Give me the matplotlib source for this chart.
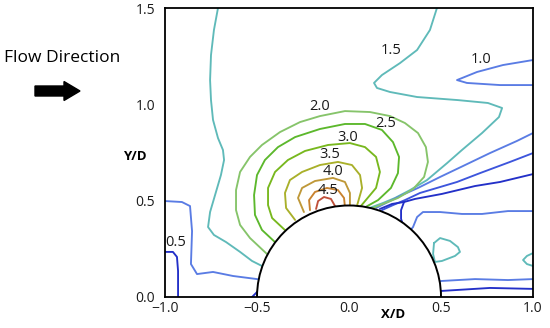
import matplotlib
matplotlib.use("Agg")
import matplotlib.pyplot as plt
from matplotlib.patches import Ellipse, FancyArrow

plt.rcParams["font.family"] = ["Open Sans", "DejaVu Sans"]

# ---------------------------------------------------------------------------
# Contour lines (X/D, Y/D)
# ---------------------------------------------------------------------------
# level 1.5
c15_left_x = [-0.712, -0.734, -0.750, -0.755, -0.750, -0.739, -0.712, -0.685, -0.679, -0.696,
              -0.728, -0.755, -0.766, -0.734, -0.668, -0.592, -0.527, -0.473, -0.451]
c15_left_y = [1.500, 1.386, 1.256, 1.126, 1.022, 0.919, 0.825, 0.763, 0.711, 0.633,
              0.529, 0.441, 0.363, 0.322, 0.285, 0.234, 0.187, 0.161, 0.150]
c15_right_x = [0.478, 0.440, 0.370, 0.277, 0.179, 0.136, 0.152, 0.223, 0.370, 0.592, 0.755,
               0.832, 0.815, 0.723, 0.614, 0.533, 0.424, 0.332, 0.250, 0.185, 0.125, 0.087]
c15_right_y = [1.500, 1.386, 1.282, 1.214, 1.152, 1.111, 1.085, 1.064, 1.038, 1.022, 1.007,
               0.981, 0.934, 0.851, 0.763, 0.695, 0.607, 0.555, 0.514, 0.488, 0.467, 0.451]
c15_loop_x = [0.462, 0.495, 0.549, 0.592, 0.603, 0.576, 0.505, 0.467, 0.457, 0.462]
c15_loop_y = [0.280, 0.306, 0.291, 0.259, 0.234, 0.213, 0.187, 0.182, 0.223, 0.280]
c15_edge_x = [1.0, 0.967, 0.946, 0.967, 1.0]
c15_edge_y = [0.228, 0.213, 0.192, 0.171, 0.161]

# level 1.0
c10_top_x = [1.0, 0.837, 0.696, 0.587, 0.641, 0.821, 1.0]
c10_top_y = [1.230, 1.204, 1.168, 1.126, 1.111, 1.100, 1.100]
c10_left_x = [-1.0, -0.908, -0.864, -0.853, -0.859, -0.826, -0.739, -0.630, -0.500, -0.473]
c10_left_y = [0.498, 0.493, 0.472, 0.342, 0.171, 0.119, 0.130, 0.109, 0.093, 0.088]
c10_mid_x = [0.321, 0.348, 0.370, 0.402, 0.495, 0.614, 0.723, 0.864, 1.0]
c10_mid_y = [0.332, 0.363, 0.415, 0.441, 0.441, 0.431, 0.431, 0.446, 0.446]
c10_bot_x = [0.484, 0.500, 0.685, 0.864, 1.0]
c10_bot_y = [0.073, 0.083, 0.093, 0.088, 0.093]
c10_fan_x = [1.0, 0.913, 0.766, 0.620, 0.495, 0.375, 0.288, 0.212, 0.147]
c10_fan_y = [0.851, 0.810, 0.747, 0.680, 0.623, 0.566, 0.529, 0.493, 0.462]

# blue fan lines on the lee side
mid_fan_x = [1.0, 0.875, 0.712, 0.587, 0.478, 0.386, 0.304, 0.239, 0.179]
mid_fan_y = [0.747, 0.701, 0.643, 0.597, 0.566, 0.540, 0.503, 0.477, 0.451]
dark_fan_x = [1.0, 0.821, 0.685, 0.505, 0.359, 0.299, 0.283, 0.283, 0.299]
dark_fan_y = [0.638, 0.597, 0.576, 0.535, 0.509, 0.493, 0.451, 0.405, 0.358]
dark_short_x = [0.299, 0.234, 0.168]
dark_short_y = [0.493, 0.483, 0.457]

# level 0.5
c05_left_x = [-1.0, -0.957, -0.935, -0.929, -0.929]
c05_left_y = [0.234, 0.234, 0.208, 0.135, 0.0]
c05_foot_x = [-0.527, -0.505, -0.489]
c05_foot_y = [0.0, 0.021, 0.036]
c05_bot_x = [0.495, 0.766, 1.0]
c05_bot_y = [0.031, 0.047, 0.042]

# upstream arcs 2.0 ... 4.5
c20_x = [-0.440, -0.538, -0.592, -0.614, -0.614, -0.592, -0.538, -0.473, -0.375, -0.266, -0.158, -0.022,
         0.114, 0.223, 0.304, 0.375, 0.418, 0.429, 0.408, 0.348, 0.266, 0.168, 0.087]
c20_y = [0.218, 0.306, 0.374, 0.451, 0.555, 0.649, 0.727, 0.789, 0.856, 0.908, 0.939, 0.965,
         0.960, 0.939, 0.903, 0.851, 0.778, 0.701, 0.623, 0.560, 0.514, 0.477, 0.446]
c25_x = [-0.391, -0.473, -0.511, -0.516, -0.500, -0.457, -0.386, -0.293, -0.158, -0.022, 0.087,
         0.179, 0.239, 0.272, 0.266, 0.228, 0.158, 0.071]
c25_y = [0.275, 0.348, 0.426, 0.529, 0.633, 0.711, 0.778, 0.830, 0.872, 0.898, 0.898,
         0.867, 0.804, 0.727, 0.643, 0.566, 0.503, 0.457]
c30_x = [-0.342, -0.418, -0.440, -0.440, -0.402, -0.332, -0.239, -0.114, 0.005, 0.087, 0.147,
         0.168, 0.147, 0.060]
c30_y = [0.342, 0.410, 0.477, 0.566, 0.649, 0.711, 0.758, 0.789, 0.799, 0.778, 0.727,
         0.649, 0.566, 0.467]
c35_x = [-0.293, -0.342, -0.348, -0.321, -0.255, -0.158, -0.060, 0.016, 0.060, 0.071, 0.043]
c35_y = [0.400, 0.462, 0.540, 0.607, 0.649, 0.685, 0.701, 0.685, 0.633, 0.566, 0.472]
c40_x = [-0.245, -0.277, -0.255, -0.185, -0.087, -0.022, 0.005, 0.005]
c40_y = [0.441, 0.514, 0.566, 0.602, 0.618, 0.597, 0.540, 0.467]
c42_x = [-0.212, -0.217, -0.185, -0.120, -0.060, -0.027, -0.022]
c42_y = [0.451, 0.503, 0.545, 0.566, 0.555, 0.514, 0.467]
c45_x = [-0.179, -0.168, -0.136, -0.098, -0.076]
c45_y = [0.457, 0.498, 0.519, 0.509, 0.472]

# contour labels
label_text = ["1.5", "1.0", "2.0", "2.5", "3.0", "3.5", "4.0", "4.5", "0.5"]
label_x = [0.228, 0.717, -0.158, 0.201, -0.005, -0.103, -0.087, -0.114, -0.940]
label_y = [1.282, 1.235, 0.991, 0.898, 0.830, 0.742, 0.649, 0.555, 0.285]

x_ticks = [-1.0, -0.5, 0.0, 0.5, 1.0]
y_ticks = [0.0, 0.5, 1.0, 1.5]

COL_DARK = "#2330c8"
COL_MID = "#3d55dc"
COL_10 = "#5a7ce4"
COL_15 = "#5fbab9"
COL_20 = "#86c46a"
COL_25 = "#5cb82c"
COL_30 = "#78b81e"
COL_35 = "#a9b02a"
COL_40 = "#bf9838"
COL_42 = "#c8822e"
COL_45 = "#c0503a"

fig = plt.figure(figsize=(5.5, 3.28), dpi=100)
ax = fig.add_axes([165 / 550, 31 / 328, 368 / 550, 289 / 328])

lines = [
    (c15_left_x, c15_left_y, COL_15), (c15_right_x, c15_right_y, COL_15),
    (c15_loop_x, c15_loop_y, COL_15), (c15_edge_x, c15_edge_y, COL_15),
    (c10_top_x, c10_top_y, COL_10), (c10_left_x, c10_left_y, COL_10),
    (c10_mid_x, c10_mid_y, COL_10), (c10_bot_x, c10_bot_y, COL_10),
    (c10_fan_x, c10_fan_y, COL_10),
    (mid_fan_x, mid_fan_y, COL_MID), (dark_fan_x, dark_fan_y, COL_DARK),
    (dark_short_x, dark_short_y, COL_DARK),
    (c05_left_x, c05_left_y, COL_DARK), (c05_foot_x, c05_foot_y, COL_DARK),
    (c05_bot_x, c05_bot_y, COL_DARK),
    (c20_x, c20_y, COL_20), (c25_x, c25_y, COL_25), (c30_x, c30_y, COL_30),
    (c35_x, c35_y, COL_35), (c40_x, c40_y, COL_40), (c42_x, c42_y, COL_42),
    (c45_x, c45_y, COL_45),
]
for xs, ys, c in lines:
    ax.plot(xs, ys, color=c, lw=1.35, solid_capstyle="round", solid_joinstyle="round")

for t, x, y in zip(label_text, label_x, label_y):
    ax.text(x, y, t, ha="center", va="center", fontsize=10.5, color="#1a1a1a")

# cylinder (half section)
ax.add_patch(Ellipse((0, 0), 1.0, 0.95, facecolor="white", edgecolor="black",
                     lw=1.4, zorder=4))

ax.set_xlim(-1.0, 1.0)
ax.set_ylim(0.0, 1.5)
ax.set_xticks(x_ticks)
ax.set_xticklabels(["\u22121.0", "\u22120.5", "0.0", "0.5", "1.0"])
ax.set_yticks(y_ticks)
ax.set_yticklabels(["0.0", "0.5", "1.0", "1.5"])
ax.tick_params(length=0, labelsize=10, colors="#1a1a1a")
ax.tick_params(axis="x", pad=3)
ax.tick_params(axis="y", pad=7)
for s in ax.spines.values():
    s.set_linewidth(1.3)
    s.set_color("black")
    s.set_zorder(5)

fig.text(393 / 550, 1 - 314 / 328, "X/D", ha="center", va="center",
         fontsize=9.5, fontweight="bold")
fig.text(135 / 550, 1 - 157 / 328, "Y/D", ha="center", va="center",
         fontsize=9.5, fontweight="bold")
fig.text(4 / 550, 1 - 58 / 328, "Flow Direction", ha="left", va="center", fontsize=12.5)
fig.add_artist(FancyArrow(35 / 550, 1 - 91 / 328, 45 / 550, 0, width=10 / 328,
                          head_width=19 / 328, head_length=16 / 550,
                          length_includes_head=True, color="black",
                          transform=fig.transFigure))

fig.savefig("out.png", dpi=100)
